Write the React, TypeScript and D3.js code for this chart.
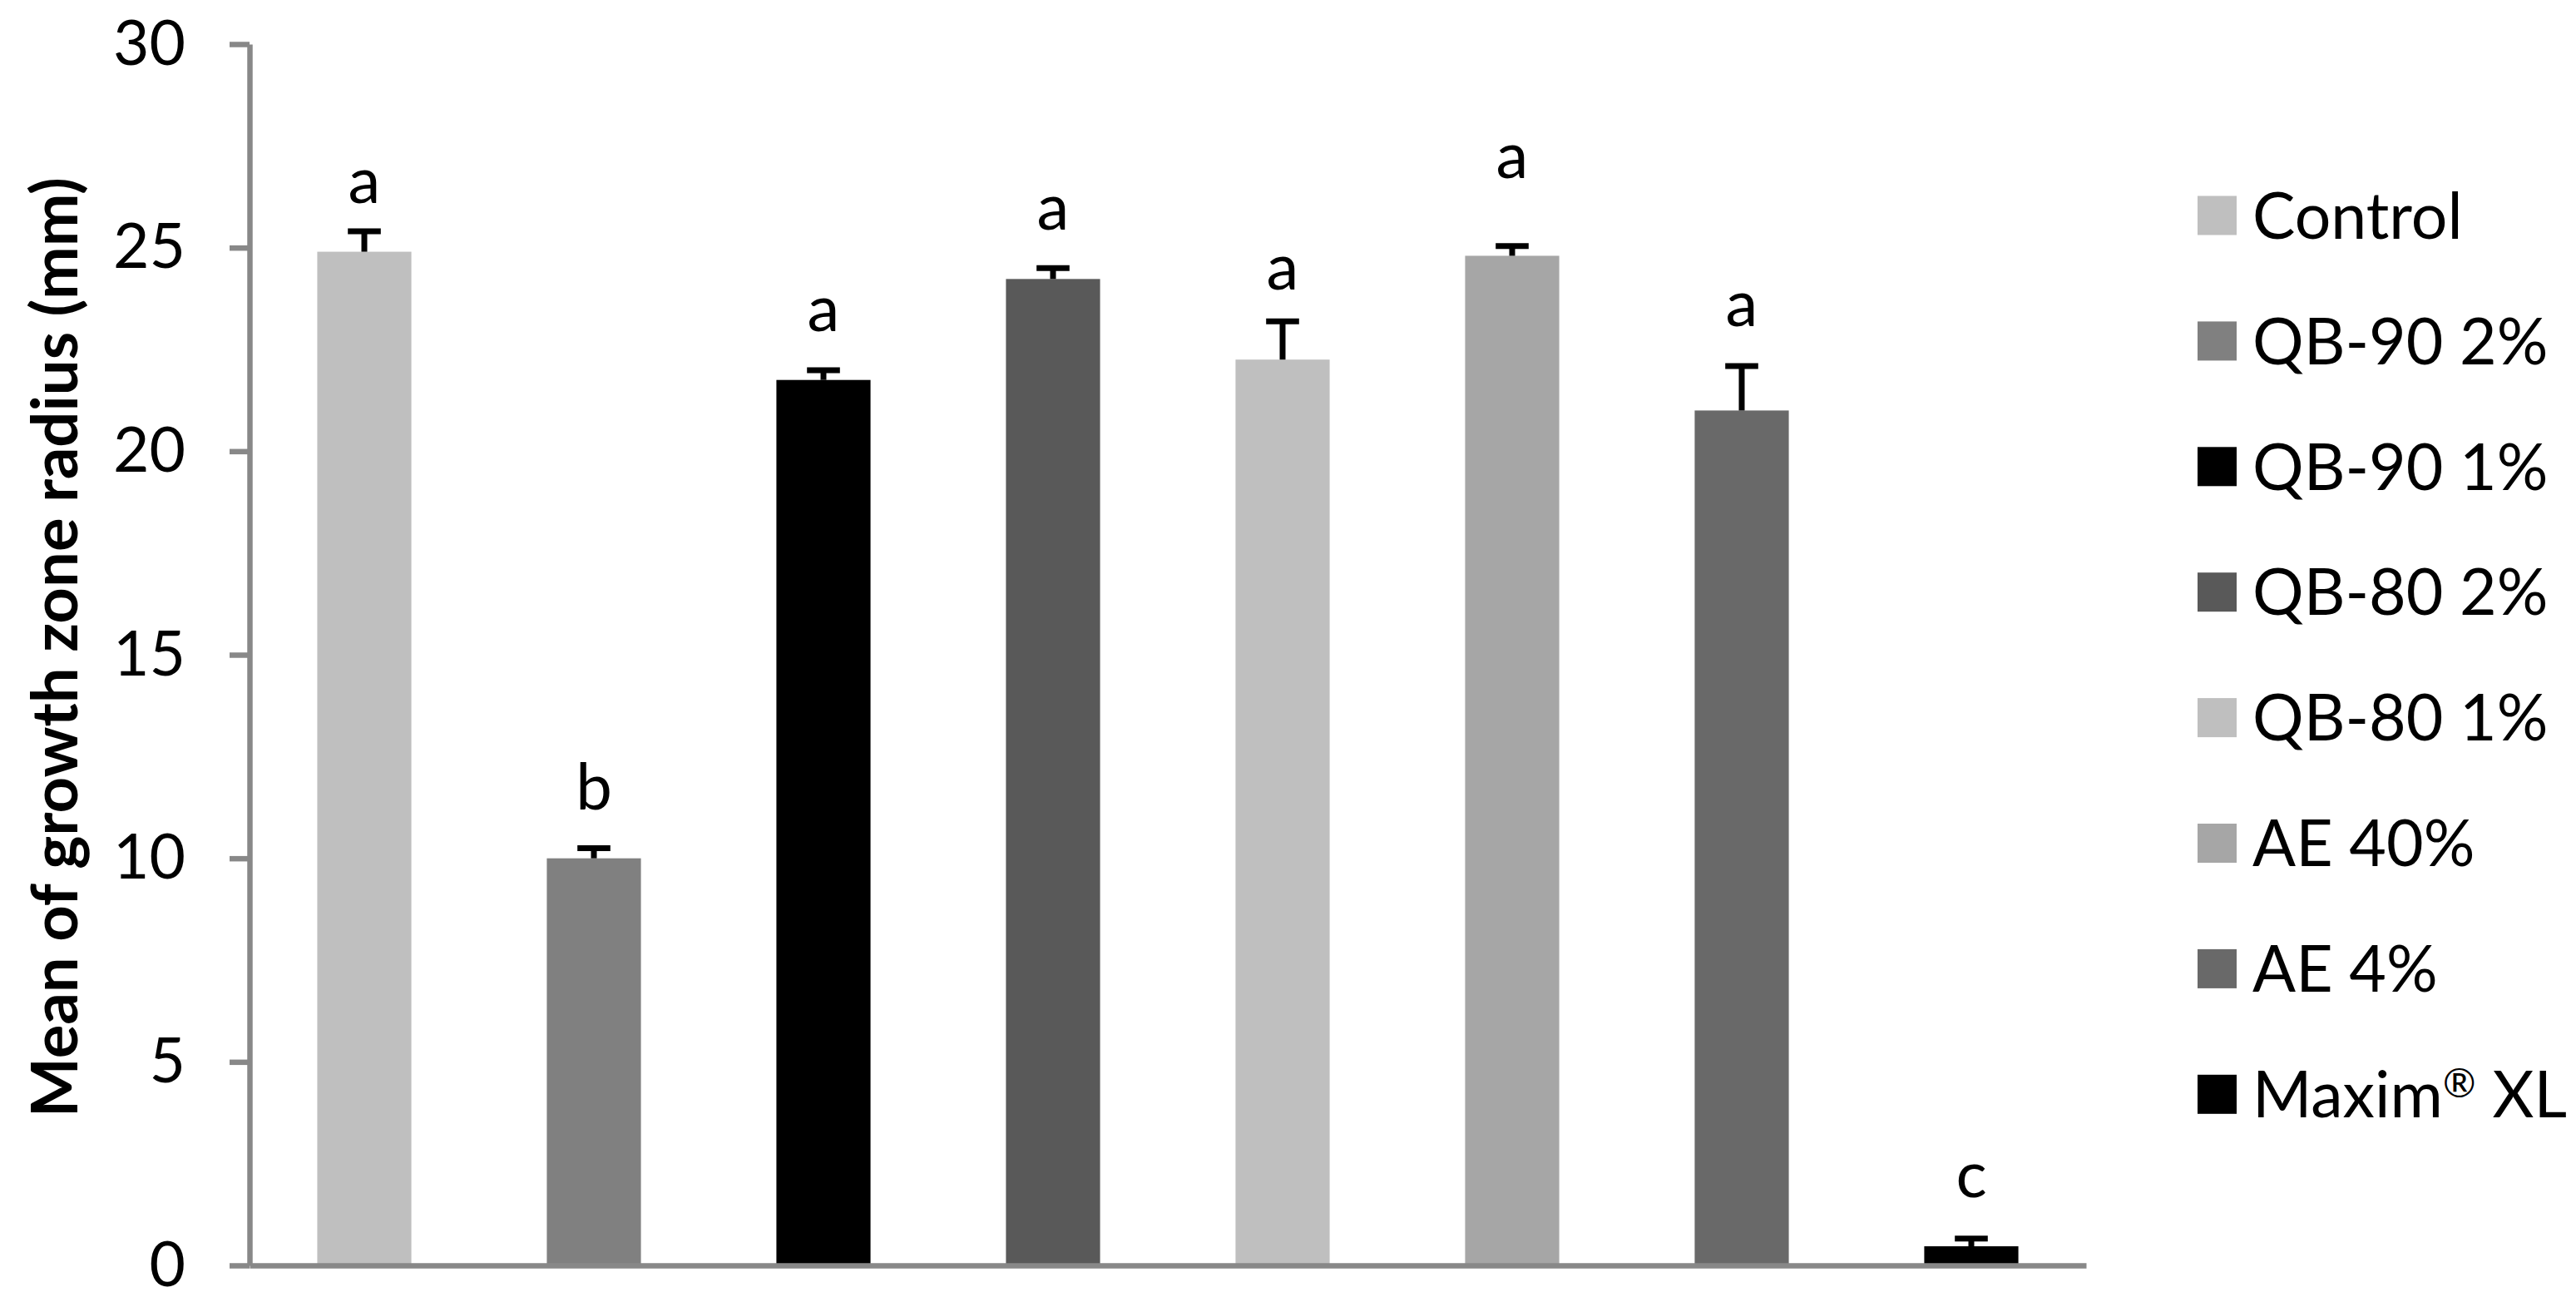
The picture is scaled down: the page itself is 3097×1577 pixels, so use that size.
import React, { useEffect, useRef } from "react";
import * as d3 from "d3";

const categories = ["Control", "QB-90 2%", "QB-90 1%", "QB-80 2%", "QB-80 1%", "AE 40%", "AE 4%", "Maxim® XL"];
const means = [24.9, 10.0, 21.75, 24.23, 22.25, 24.8, 21.0, 0.47];
const errorsUp = [0.5, 0.25, 0.24, 0.27, 0.94, 0.24, 1.09, 0.19];
const letters = ["a", "b", "a", "a", "a", "a", "a", "c"];
const letterY = [26.1, 11.2, 22.94, 25.44, 23.97, 26.71, 23.07, 1.68];
const colors = ["#BFBFBF", "#808080", "#000000", "#595959", "#BFBFBF", "#A6A6A6", "#696969", "#000000"];
const yTicks = [0, 5, 10, 15, 20, 25, 30];
const yTitle = "Mean of growth zone radius (mm)";

const W = 3097;
const H = 1577;
const FONT = "Lato, 'Open Sans', sans-serif";

export default function App() {
  const ref = useRef<SVGSVGElement | null>(null);

  useEffect(() => {
    document.body.style.margin = "0";
    const svg = d3.select(ref.current);
    svg.selectAll("*").remove();

    const y = d3.scaleLinear().domain([0, 30]).range([1521, 53]);
    const x = d3.scaleBand<string>().domain(categories).range([300, 2508]).paddingInner(0.59).paddingOuter(0.295);
    const axisColor = "#888888";

    // bars
    svg.append("g").selectAll("rect").data(categories).join("rect")
      .attr("x", (d) => x(d)!)
      .attr("width", x.bandwidth())
      .attr("y", (_d, i) => y(means[i]))
      .attr("height", (_d, i) => y(0) - y(means[i]))
      .attr("fill", (_d, i) => colors[i]);

    // error bars
    const eb = svg.append("g").attr("stroke", "#000").attr("stroke-width", 7);
    const capW = x.bandwidth() * 0.35;
    categories.forEach((c, i) => {
      const cx = x(c)! + x.bandwidth() / 2;
      eb.append("line").attr("x1", cx).attr("x2", cx).attr("y1", y(means[i])).attr("y2", y(means[i] + errorsUp[i]));
      eb.append("line").attr("x1", cx - capW / 2).attr("x2", cx + capW / 2)
        .attr("y1", y(means[i] + errorsUp[i])).attr("y2", y(means[i] + errorsUp[i]));
    });

    // letters
    svg.append("g").selectAll("text").data(categories).join("text")
      .attr("x", (d) => x(d)! + x.bandwidth() / 2)
      .attr("y", (_d, i) => y(letterY[i]))
      .attr("text-anchor", "middle")
      .attr("font-family", FONT)
      .attr("font-size", 78)
      .attr("fill", "#000")
      .text((_d, i) => letters[i]);

    // x axis baseline
    const xAxis = svg.append("g").attr("transform", `translate(0,${y(0)})`)
      .call(d3.axisBottom(x).tickSize(0).tickFormat(() => ""));
    xAxis.select(".domain").attr("stroke", axisColor).attr("stroke-width", 6.5);

    // y axis
    const yAxis = svg.append("g").attr("transform", `translate(300,0)`)
      .call(d3.axisLeft(y).tickValues(yTicks).tickSize(24).tickSizeOuter(0).tickPadding(53).tickFormat(d3.format("d")));
    yAxis.select(".domain").attr("stroke", axisColor).attr("stroke-width", 6.5);
    yAxis.selectAll(".tick line").attr("stroke", axisColor).attr("stroke-width", 6.5);
    yAxis.selectAll(".tick text").attr("font-family", FONT).attr("font-size", 75).attr("fill", "#000");

    // y title
    svg.append("text")
      .attr("transform", `translate(93,778) rotate(-90)`)
      .attr("text-anchor", "middle")
      .attr("font-family", FONT)
      .attr("font-weight", "bold")
      .attr("font-size", 76)
      .attr("fill", "#000")
      .text(yTitle);

    // legend
    const lg = svg.append("g");
    categories.forEach((c, i) => {
      const cy = 259 + i * 150.9;
      lg.append("rect").attr("x", 2642).attr("y", cy - 23.5).attr("width", 47).attr("height", 47).attr("fill", colors[i]);
      const t = lg.append("text").attr("x", 2708).attr("y", cy).attr("dy", "0.36em")
        .attr("font-family", FONT).attr("font-size", 77).attr("fill", "#000");
      const parts = c.split("®");
      t.append("tspan").text(parts[0]);
      if (parts.length > 1) {
        t.append("tspan").attr("font-size", 48).attr("dy", -24).text("®");
        t.append("tspan").attr("dy", 24).text(parts[1]);
      }
    });
  }, []);

  return <svg ref={ref} width={W} height={H} style={{ display: "block", background: "#fff" }} />;
}
